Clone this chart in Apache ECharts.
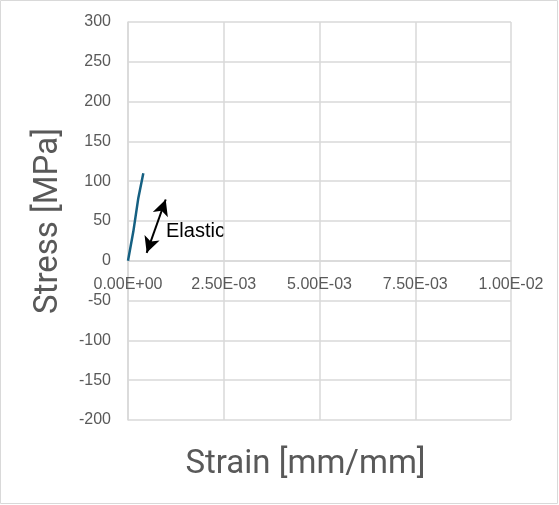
<!DOCTYPE html>
<html><head><meta charset="utf-8">
<script src="https://cdn.jsdelivr.net/npm/echarts@6/dist/echarts.min.js"></script>
<style>html,body{margin:0;padding:0;background:#fff}#c{width:559px;height:505px}</style>
</head><body><div id="c"></div>
<script>
// Data
const strainValues = [0, 0.00014, 0.00027, 0.00040];
const stressValues = [0, 37, 79, 110];
const arrowStart = [0.000488, 10];
const arrowEnd = [0.000984, 77];
const annotationText = 'Elastic';
const xTitle = 'Strain [mm/mm]';
const yTitle = 'Stress [MPa]';
const yMin = -200, yMax = 300;

function sci(v){
  if (v === 0) return '0.00E+00';
  let s = v.toExponential(2).toUpperCase();
  let m = s.match(/^(-?[\d.]+)E([+-])(\d+)$/);
  let e = m[3].length < 2 ? '0' + m[3] : m[3];
  return m[1] + 'E' + m[2] + e;
}

const chart = echarts.init(document.getElementById('c'));
const gray = '#595959';
const grid = '#d9d9d9';
const gTop = 22, gBottom = 85, gHeight = 505 - gTop - gBottom;
// move x axis (labels) to the y=0 line
const xOffset = -(gHeight * (0 - yMin) / (yMax - yMin));
chart.setOption({
  animation: false,
  grid: {left: 128, right: 48, top: gTop, bottom: gBottom},
  xAxis: {
    type: 'value', min: 0, max: 0.01, interval: 0.0025,
    offset: xOffset,
    axisLine: {show: true, onZero: false, lineStyle: {color: grid, width: 1.5}},
    axisTick: {show: false},
    axisLabel: {formatter: sci, color: gray, fontSize: 16, fontFamily: 'Liberation Sans', margin: 16},
    splitLine: {lineStyle: {color: grid, width: 1.5}}
  },
  yAxis: {
    type: 'value', min: yMin, max: yMax, interval: 50,
    axisLine: {show: true, onZero: false, lineStyle: {color: grid, width: 1.5}},
    axisTick: {show: false},
    axisLabel: {color: gray, fontSize: 16, fontFamily: 'Liberation Sans', margin: 17},
    splitLine: {lineStyle: {color: grid, width: 1.5}}
  },
  series: [{
    type: 'line',
    data: strainValues.map((x, i) => [x, stressValues[i]]),
    showSymbol: false,
    lineStyle: {color: '#156082', width: 2.5},
    markLine: {
      silent: true,
      symbol: ['arrow', 'arrow'],
      symbolSize: [12, 16],
      lineStyle: {color: '#000', width: 2, type: 'solid'},
      label: {show: false},
      data: [[{coord: arrowStart}, {coord: arrowEnd}]]
    }
  }],
  graphic: [
    {type: 'rect', shape: {x: 0.5, y: 0.5, width: 557, height: 503}, style: {fill: 'none', stroke: grid, lineWidth: 1}},
    {type: 'text', left: 166, top: 221, style: {text: annotationText, fill: '#000', font: '20px "Liberation Sans"'}},
    {type: 'text', x: 305.5, y: 465, style: {text: xTitle, fill: gray, font: '33px Roboto', align: 'center', verticalAlign: 'middle'}},
    {type: 'text', x: 49, y: 221, rotation: Math.PI/2, style: {text: yTitle, fill: gray, font: '33px Roboto', align: 'center', verticalAlign: 'middle'}}
  ]
});
</script></body></html>
